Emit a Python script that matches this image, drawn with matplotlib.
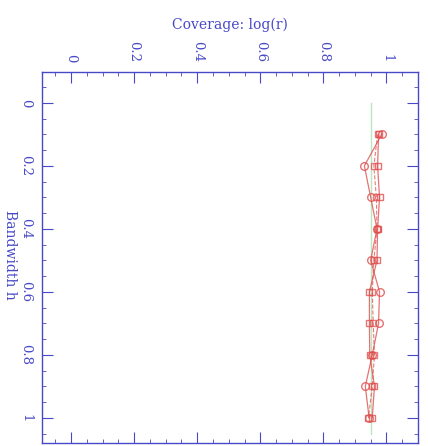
import matplotlib.pyplot as plt
from matplotlib.ticker import MultipleLocator

# bandwidth values and coverage for each estimator
bandwidth = [0.1, 0.2, 0.3, 0.4, 0.5, 0.6, 0.7, 0.8, 0.9, 1.0]
cov_circle = [0.985, 0.930, 0.950, 0.970, 0.950, 0.978, 0.975, 0.955, 0.933, 0.945]
cov_square = [0.975, 0.972, 0.978, 0.972, 0.970, 0.946, 0.946, 0.947, 0.962, 0.955]
cov_square2 = [0.972, 0.960, 0.968, 0.970, 0.960, 0.955, 0.958, 0.962, 0.955, 0.943]
nominal = 0.95
nominal_h = [0.0, 1.05]

ticks = [0, 0.2, 0.4, 0.6, 0.8, 1]
tick_labels = ['0', '0.2', '0.4', '0.6', '0.8', '1']

blue = '#4848c8'
red = '#e05050'

plt.rcParams['font.family'] = ['DejaVu Serif']

fig = plt.figure(figsize=(4.28, 4.46), dpi=100)
ax = fig.add_axes([42 / 428, 1 - 443 / 446, 376 / 428, 371 / 446])

# the chart is drawn turned on its side: coverage across, bandwidth down
ax.plot([nominal, nominal], nominal_h, color='#b8e8c0', lw=1)
ax.plot(cov_square2, bandwidth, color=red, lw=0.8, ls='--', marker='s',
        ms=5, mfc='none', mec=red, alpha=0.75)
ax.plot(cov_square, bandwidth, color=red, lw=0.9, marker='s',
        ms=5, mfc='none', mec=red, alpha=0.8)
ax.plot(cov_circle, bandwidth, color=red, lw=0.9, marker='o',
        ms=5.5, mfc='none', mec=red, alpha=0.8)

ax.set_xlim(-0.092, 1.10)
ax.set_ylim(1.08, -0.098)

ax.xaxis.tick_top()
ax.xaxis.set_label_position('top')
ax.set_xticks(ticks)
ax.set_xticklabels(tick_labels, rotation=-90)
ax.set_yticks(ticks)
ax.set_yticklabels(tick_labels, rotation=-90, va='center')
ax.xaxis.set_minor_locator(MultipleLocator(0.05))
ax.yaxis.set_minor_locator(MultipleLocator(0.05))

ax.tick_params(which='both', direction='in', top=True, bottom=True,
               left=True, right=True, color=blue, labelcolor=blue,
               labelsize=9.5)
ax.tick_params(which='major', length=8, width=0.8, pad=7)
ax.tick_params(which='minor', length=3, width=0.6)
for s in ax.spines.values():
    s.set_color(blue)
    s.set_linewidth(1)

ax.set_xlabel('Coverage: log(r)', color=blue, fontsize=10, labelpad=9)
fig.text(10 / 428, 1 - 255 / 446, 'Bandwidth h', color=blue, fontsize=10,
         rotation=-90, ha='center', va='center')

fig.savefig('out.png', dpi=100)
